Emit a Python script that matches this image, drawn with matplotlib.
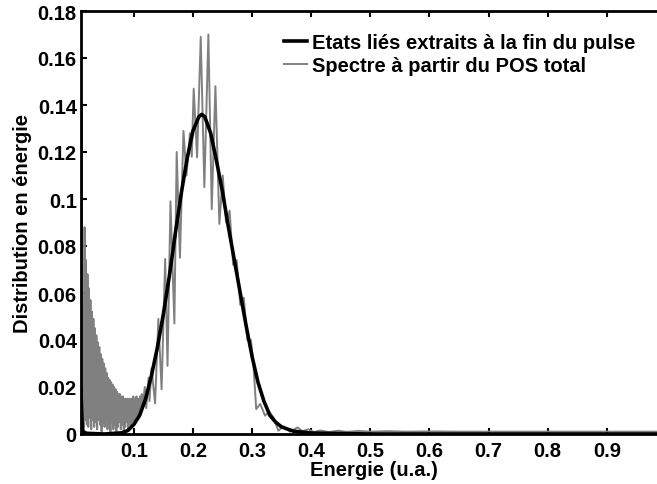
import matplotlib
matplotlib.use("Agg")
import matplotlib.pyplot as plt
from matplotlib.ticker import FixedLocator

plt.rcParams['font.family'] = ['Liberation Sans', 'DejaVu Sans']
plt.rcParams['font.weight'] = 'bold'

# Bound-state distribution extracted at the end of the pulse (smooth curve)
bound_x = [0.0105, 0.0115, 0.0125, 0.014, 0.02, 0.05, 0.08, 0.09, 0.10, 0.11,
           0.12, 0.13, 0.14, 0.15, 0.16, 0.17, 0.18, 0.19, 0.20, 0.21,
           0.215, 0.22, 0.23, 0.24, 0.25, 0.26, 0.27, 0.28, 0.29, 0.30,
           0.31, 0.32, 0.33, 0.34, 0.35, 0.37, 0.40, 0.50, 1.00]
bound_y = [0.019, 0.012, 0.005, 0.001, 0.0003, 0.0, 0.0005, 0.0015, 0.004, 0.008,
           0.015, 0.025, 0.037, 0.051, 0.067, 0.085, 0.102, 0.117, 0.129, 0.135,
           0.136, 0.135, 0.128, 0.116, 0.103, 0.088, 0.074, 0.060, 0.046, 0.033,
           0.022, 0.014, 0.008, 0.005, 0.003, 0.0012, 0.0004, 0.0, 0.0]

# Spectrum computed from the total POS (oscillating curve)
spec_x = [0.0105, 0.0112, 0.0120,
          0.0130, 0.0142, 0.0155, 0.0167, 0.0180, 0.0192, 0.0205, 0.0217,
          0.0230, 0.0242, 0.0255, 0.0267, 0.0280, 0.0292, 0.0305, 0.0317,
          0.0330, 0.0342, 0.0355, 0.0367, 0.0380, 0.0392, 0.0405, 0.0417,
          0.0430, 0.0442, 0.0455, 0.0467, 0.0480, 0.0492, 0.0505, 0.0517,
          0.0530, 0.0542, 0.0555, 0.0567, 0.0580, 0.0592, 0.0605, 0.0617,
          0.0630, 0.0642, 0.0655, 0.0667, 0.0680, 0.0692, 0.0705, 0.0717,
          0.0730, 0.0742, 0.0755, 0.0767, 0.0780, 0.0792, 0.0805, 0.0817,
          0.0830, 0.0842, 0.0855, 0.0867, 0.0880, 0.0892, 0.0905, 0.0917,
          0.0930, 0.0942, 0.0955, 0.0967, 0.0980, 0.0992, 0.1005, 0.1017,
          0.1030, 0.1045, 0.1060, 0.1075, 0.1090, 0.1105, 0.1120, 0.1135,
          0.1150, 0.1185, 0.1210, 0.1250, 0.1265, 0.1300, 0.1360, 0.1415,
          0.1470, 0.1530, 0.1570, 0.1620, 0.1686, 0.1725, 0.1780, 0.1840,
          0.1890, 0.1950, 0.1980, 0.2013, 0.2070, 0.2132, 0.2193, 0.2261,
          0.2318, 0.2380, 0.2447, 0.2504, 0.2560, 0.2620, 0.2680, 0.2740,
          0.2800, 0.2860, 0.2920, 0.2980, 0.3020, 0.3070, 0.3138, 0.3220,
          0.3290, 0.3360, 0.3445, 0.3530, 0.3640, 0.3770, 0.3850, 0.3950,
          0.4050, 0.4150, 0.4300, 0.4450, 0.4600, 0.4800, 0.5000, 0.5300,
          0.5600, 0.6000, 0.6500, 0.7000, 0.8000, 0.9000, 1.0000]
spec_y = [0.176, 0.060, 0.140,
          0.004, 0.055, 0.003, 0.088, 0.006, 0.074, 0.004, 0.068,
          0.003, 0.062, 0.007, 0.057, 0.002, 0.052, 0.006, 0.049,
          0.003, 0.045, 0.005, 0.042, 0.002, 0.039, 0.006, 0.037,
          0.004, 0.034, 0.001, 0.032, 0.005, 0.030, 0.003, 0.028,
          0.006, 0.026, 0.002, 0.024, 0.004, 0.023, 0.001, 0.022,
          0.005, 0.021, 0.002, 0.020, 0.004, 0.019, 0.001, 0.018,
          0.003, 0.017, 0.005, 0.017, 0.002, 0.016, 0.004, 0.016,
          0.001, 0.015, 0.003, 0.015, 0.005, 0.015, 0.002, 0.015,
          0.004, 0.015, 0.003, 0.015, 0.005, 0.016, 0.004, 0.015,
          0.006, 0.016, 0.007, 0.015, 0.008, 0.016, 0.009, 0.017,
          0.011, 0.020, 0.011, 0.024, 0.014, 0.028, 0.013, 0.049,
          0.019, 0.0745, 0.029, 0.099, 0.047, 0.120, 0.075, 0.129,
          0.110, 0.128, 0.118, 0.147, 0.1177, 0.169, 0.105, 0.170,
          0.0957, 0.148, 0.0894, 0.110, 0.090, 0.095, 0.072, 0.074,
          0.055, 0.058, 0.040, 0.040, 0.0306, 0.0106, 0.0128, 0.0078,
          0.0095, 0.0071, 0.0014, 0.0033, 0.001, 0.0028, 0.0012, 0.002,
          0.0008, 0.0015, 0.0008, 0.0014, 0.0009, 0.0013, 0.0010, 0.0012,
          0.0010, 0.0011, 0.0010, 0.0010, 0.0010, 0.0010, 0.0010]

x_ticks = [0.1, 0.2, 0.3, 0.4, 0.5, 0.6, 0.7, 0.8, 0.9]
x_tick_labels = ['0.1', '0.2', '0.3', '0.4', '0.5', '0.6', '0.7', '0.8', '0.9']
y_ticks = [0, 0.02, 0.04, 0.06, 0.08, 0.1, 0.12, 0.14, 0.16, 0.18]
y_tick_labels = ['0', '0.02', '0.04', '0.06', '0.08', '0.1', '0.12', '0.14', '0.16', '0.18']

FS = 14.5

fig = plt.figure(figsize=(6.57, 4.85), dpi=100)
ax = fig.add_axes([81 / 657, 50 / 485, 585 / 657, 423 / 485])

ax.plot(bound_x, bound_y, color='black', lw=2.6,
        label='Etats liés extraits à la fin du pulse', zorder=3)
ax.plot(spec_x, spec_y, color='#808080', lw=1.4,
        label='Spectre à partir du POS total', zorder=2)

ax.set_xlim(0.0107, 1.0)
ax.set_ylim(0, 0.18)
ax.xaxis.set_major_locator(FixedLocator(x_ticks))
ax.set_xticklabels(x_tick_labels)
ax.yaxis.set_major_locator(FixedLocator(y_ticks))
ax.set_yticklabels(y_tick_labels)

for side in ('left', 'bottom', 'top', 'right'):
    ax.spines[side].set_linewidth(2.0)
ax.tick_params(direction='in', length=4, width=1.5, top=True, right=True,
               labelsize=FS)
ax.tick_params(axis='x', pad=5)
ax.tick_params(axis='y', pad=3)
for lab in ax.get_xticklabels() + ax.get_yticklabels():
    lab.set_fontweight('bold')

ax.set_xlabel('Energie (u.a.)', fontsize=FS, fontweight='bold', labelpad=0)
ax.set_ylabel('Distribution en énergie', fontsize=FS, fontweight='bold', labelpad=4)

leg = ax.legend(loc='upper left', bbox_to_anchor=(284 / 657, 1 - 34 / 485),
                bbox_transform=fig.transFigure, frameon=False, fontsize=FS,
                handlelength=1.15, handletextpad=0.25, labelspacing=0.22,
                borderpad=0, borderaxespad=0)
for t in leg.get_texts():
    t.set_fontweight('bold')

fig.savefig('out.png', dpi=100)
